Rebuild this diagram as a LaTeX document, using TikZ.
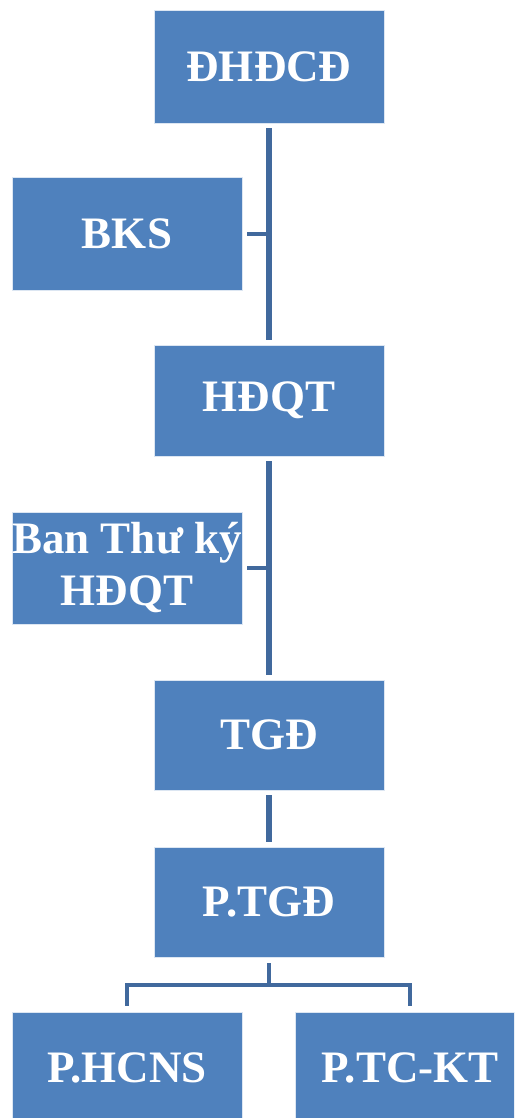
\documentclass[tikz,border=0pt]{standalone}
\usepackage{fontspec}
\setmainfont{Liberation Serif}
\definecolor{boxblue}{HTML}{4F81BD}
\definecolor{linkblue}{HTML}{41699D}
\begin{document}
\begin{tikzpicture}[x=1pt,y=1pt,
  orgbox/.style={rectangle, fill=boxblue, draw=white!80!boxblue, line width=0.6pt,
    minimum width=230pt, minimum height=112pt, inner sep=0pt, text=white,
    font=\fontsize{45}{52}\selectfont\bfseries, align=center},
  trunk/.style={draw=linkblue, line width=5.5pt},
  tick/.style={draw=linkblue, line width=4pt}]
\useasboundingbox (0,0) rectangle (514,-1118);
\clip (0,0) rectangle (514,-1118);
\node[orgbox, minimum height=113pt] (dh) at (269,-66.5) {ĐHĐCĐ};
\node[orgbox, minimum height=113pt] (bks) at (127,-233.5) {BKS};
\node[orgbox, minimum height=111pt] (hd) at (269,-400.5) {HĐQT};
\node[orgbox] (ban) at (127,-568) {Ban Thư ký\\HĐQT};
\node[orgbox, minimum height=110pt] (tgd) at (269,-735) {TGĐ};
\node[orgbox, minimum height=110pt] (ptgd) at (269,-902) {P.TGĐ};
\node[orgbox] (hcns) at (127,-1068) {P.HCNS};
\node[orgbox] (tckt) at (410,-1068) {P.TC-KT};
% trunk lines
\draw[trunk, shorten <=5pt, shorten >=5pt] (dh.south) -- (hd.north);
\draw[trunk, shorten <=5pt, shorten >=5pt] (hd.south) -- (tgd.north);
\draw[trunk, shorten <=5pt, shorten >=5pt] (tgd.south) -- (ptgd.north);
% side ticks
\draw[tick, shorten <=5pt] (bks.east) -- (bks.east -| dh.south);
\draw[tick, shorten <=5pt] (ban.east) -- (ban.east -| hd.south);
% bottom fork
\coordinate (fork) at (269,-985);
\draw[tick, shorten <=6pt] (ptgd.south) -- (fork);
\draw[tick, shorten >=6pt, line join=miter] (fork) -| (hcns.north);
\draw[tick, shorten >=6pt, line join=miter] (fork) -| (tckt.north);
\end{tikzpicture}
\end{document}
